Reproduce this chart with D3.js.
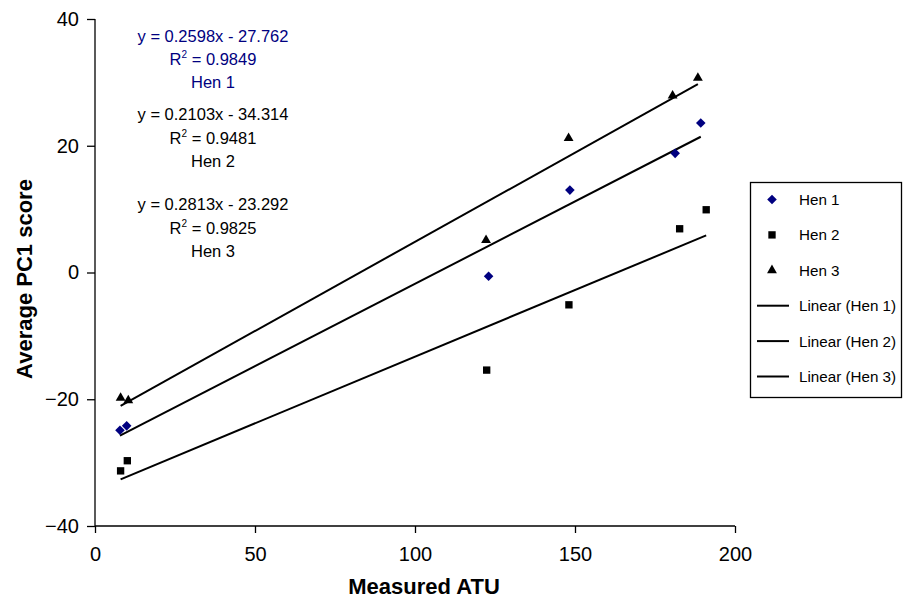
<!DOCTYPE html>
<html>
<head>
<meta charset="utf-8">
<script src="https://cdn.jsdelivr.net/npm/d3@7"></script>
<style>
  body { margin: 0; background: #fff; }
  svg { display: block; font-family: "Liberation Sans", Arial, sans-serif; }
</style>
</head>
<body>
<div id="chart"></div>
<script>
// values
const hen1X = [7.8, 9.9, 123.0, 148.4, 181.3, 189.3];
const hen1Y = [-24.9, -24.2, -0.6, 13.0, 18.8, 23.6];
const hen2X = [8.0, 10.1, 122.4, 148.1, 182.7, 191.0];
const hen2Y = [-31.3, -29.7, -15.4, -5.1, 6.9, 9.9];
const hen3X = [8.0, 10.4, 122.2, 148.0, 180.5, 188.4];
const hen3Y = [-19.8, -20.2, 5.1, 21.2, 27.9, 30.7];

const seriesNames = ["Hen 1", "Hen 2", "Hen 3"];
const slopes = [0.2598, 0.2103, 0.2813];
const intercepts = [-27.762, -34.314, -23.292];
const rSquared = [0.9849, 0.9481, 0.9825];

const xTicks = [0, 50, 100, 150, 200];
const yTicks = [-40, -20, 0, 20, 40];

const W = 903, H = 599;
const svg = d3.select("#chart").append("svg")
    .attr("width", W)
    .attr("height", H);

const x = d3.scaleLinear().domain([0, 200]).range([95, 735]);
const y = d3.scaleLinear().domain([-40, 40]).range([526, 19]);

const colors = ["#000080", "#000000", "#000000"];
const symbols = [
    d3.symbol().type(d3.symbolSquare).size(46),   // rotated -> diamond
    d3.symbol().type(d3.symbolSquare).size(54),
    d3.symbol().type(d3.symbolTriangle).size(42)
];
const rotations = [45, 0, 0];

const series = [
    hen1X.map((v, i) => ({x: v, y: hen1Y[i]})),
    hen2X.map((v, i) => ({x: v, y: hen2Y[i]})),
    hen3X.map((v, i) => ({x: v, y: hen3Y[i]}))
];

// axes
const yAxis = svg.append("g")
    .attr("transform", "translate(95,0)")
    .call(d3.axisLeft(y).tickValues(yTicks).tickSize(8).tickPadding(8));
const xAxis = svg.append("g")
    .attr("transform", "translate(0,526)")
    .call(d3.axisBottom(x).tickValues(xTicks).tickSize(7).tickPadding(14));
[xAxis, yAxis].forEach(g => {
    g.select(".domain").attr("stroke", "#000").attr("stroke-width", 1.3);
    g.selectAll(".tick line").attr("stroke", "#000").attr("stroke-width", 1.3);
    g.selectAll(".tick text")
        .attr("fill", "#000")
        .style("font-size", "20px")
        .style("font-family", "'Liberation Sans', Arial, sans-serif");
});
// plain axis lines, no outer ticks
xAxis.select(".domain").attr("d", "M95,0H735");
yAxis.select(".domain").attr("d", "M0,19V526");

// trend lines
series.forEach((pts, i) => {
    const ext = d3.extent(pts, d => d.x);
    svg.append("line")
        .attr("x1", x(ext[0]))
        .attr("y1", y(slopes[i] * ext[0] + intercepts[i]))
        .attr("x2", x(ext[1]))
        .attr("y2", y(slopes[i] * ext[1] + intercepts[i]))
        .attr("stroke", "#000")
        .attr("stroke-width", 2);
});

// points
series.forEach((pts, i) => {
    svg.append("g").selectAll("path")
        .data(pts)
        .enter().append("path")
        .attr("d", symbols[i]())
        .attr("transform", d => "translate(" + x(d.x) + "," + y(d.y) + ") rotate(" + rotations[i] + ")")
        .attr("fill", colors[i]);
});

// regression labels
const labelTops = [41.7, 120, 210];
seriesNames.forEach((name, i) => {
    const g = svg.append("g")
        .attr("fill", colors[i])
        .style("font-size", "16.5px")
        .attr("text-anchor", "middle");
    g.append("text")
        .attr("x", 213).attr("y", labelTops[i])
        .text("y = " + slopes[i] + "x - " + Math.abs(intercepts[i]));
    const r = g.append("text").attr("x", 213).attr("y", labelTops[i] + 23.5);
    r.append("tspan").text("R");
    r.append("tspan").attr("dy", -7).style("font-size", "10px").text("2");
    r.append("tspan").attr("dy", 7).text(" = " + rSquared[i]);
    g.append("text")
        .attr("x", 213).attr("y", labelTops[i] + 46.5)
        .text(name);
});

// axis titles
svg.append("text")
    .attr("x", 424).attr("y", 594)
    .attr("text-anchor", "middle")
    .style("font-size", "22px")
    .style("font-weight", "bold")
    .text("Measured ATU");
svg.append("text")
    .attr("transform", "translate(32,279) rotate(-90)")
    .attr("text-anchor", "middle")
    .style("font-size", "22px")
    .style("font-weight", "bold")
    .text("Average PC1 score");

// legend
const legend = svg.append("g");
legend.append("rect")
    .attr("x", 750.5).attr("y", 182.5)
    .attr("width", 151).attr("height", 215)
    .attr("fill", "#fff")
    .attr("stroke", "#000")
    .attr("stroke-width", 1.3);
const legendItems = seriesNames.map((n, i) => ({label: n, kind: "pt", i}))
    .concat(seriesNames.map((n, i) => ({label: "Linear (" + n + ")", kind: "line", i})));
legendItems.forEach((d, k) => {
    const cy = 199.5 + k * 35.4;
    if (d.kind === "pt") {
        legend.append("path")
            .attr("d", symbols[d.i]())
            .attr("transform", "translate(772," + cy + ") rotate(" + rotations[d.i] + ")")
            .attr("fill", colors[d.i]);
    } else {
        legend.append("line")
            .attr("x1", 757).attr("x2", 789)
            .attr("y1", cy).attr("y2", cy)
            .attr("stroke", "#000").attr("stroke-width", 2);
    }
    legend.append("text")
        .attr("x", 799).attr("y", cy + 5.5)
        .style("font-size", "15.2px")
        .text(d.label);
});
</script>
</body>
</html>
